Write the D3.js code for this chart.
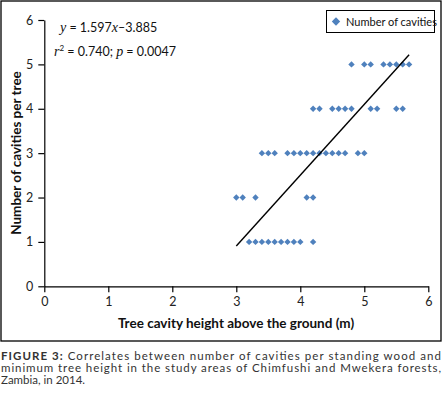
<!DOCTYPE html>
<html><head><meta charset="utf-8">
<script src="https://cdn.jsdelivr.net/npm/d3@7"></script>
<style>body{margin:0;background:#fff}svg{display:block}</style>
</head><body>
<svg id="c" width="446" height="396"></svg>
<script>
const heights = [3.2,3.3,3.4,3.5,3.6,3.7,3.8,3.9,4.0,4.2,
  3.0,3.1,3.3,4.1,4.2,
  3.4,3.5,3.6,3.8,3.9,4.0,4.1,4.2,4.3,4.4,4.5,4.6,4.7,4.9,5.0,
  4.2,4.3,4.5,4.6,4.7,4.8,5.1,5.2,5.5,5.6,
  4.8,5.0,5.1,5.3,5.4,5.5,5.6,5.7];
const cavities = [1,1,1,1,1,1,1,1,1,1,
  2,2,2,2,2,
  3,3,3,3,3,3,3,3,3,3,3,3,3,3,3,
  4,4,4,4,4,4,4,4,4,4,
  5,5,5,5,5,5,5,5];
const xTicks = [0,1,2,3,4,5,6];
const yTicks = [0,1,2,3,4,5,6];
const slope = 1.597, intercept = -3.885;
const fitRange = [3.0, 5.7];
const seriesName = "Number of cavities";
const xTitle = "Tree cavity height above the ground (m)";
const yTitle = "Number of cavities per tree";
const captionLines = [
  "Correlates between number of cavities per standing wood and",
  "minimum tree height in the study areas of Chimfushi and Mwekera forests,",
  "Zambia, in 2014."
];

const svg = d3.select("#c");
const font = "Lato, 'Open Sans', sans-serif";
const x = d3.scaleLinear().domain([0,6]).range([44.3,428.3]);
const y = d3.scaleLinear().domain([0,6]).range([286.3,20]);

// outer frame
svg.append("rect").attr("x",1).attr("y",1).attr("width",440).attr("height",340)
  .attr("fill","none").attr("stroke","#000").attr("stroke-width",1.3);

const xa = svg.append("g").attr("transform",`translate(0,${y(0)})`)
  .call(d3.axisBottom(x).tickValues(xTicks).tickFormat(d3.format("d")).tickSize(6).tickSizeOuter(0).tickPadding(5));
const ya = svg.append("g").attr("transform",`translate(${x(0)},0)`)
  .call(d3.axisLeft(y).tickValues(yTicks).tickFormat(d3.format("d")).tickSize(6).tickSizeOuter(0).tickPadding(5));
[xa,ya].forEach(a=>{
  a.selectAll("path,line").attr("stroke","#000").attr("stroke-width",1.2);
  a.selectAll("text").attr("font-family",font).attr("font-size",12.5).attr("fill","#222");
});

// axis titles
svg.append("text").attr("x",236).attr("y",328).attr("text-anchor","middle")
  .attr("font-family",font).attr("font-weight","bold").attr("font-size",13.5).attr("fill","#111").text(xTitle);
svg.append("text").attr("transform","translate(21,153) rotate(-90)").attr("text-anchor","middle")
  .attr("font-family",font).attr("font-weight","bold").attr("font-size",13.5).attr("fill","#111").text(yTitle);

// points
const dpath = r => `M0,${-r}L${r},0L0,${r}L${-r},0Z`;
svg.append("g").selectAll("path").data(heights).join("path")
  .attr("d",dpath(3.2))
  .attr("transform",(d,i)=>`translate(${x(d)},${y(cavities[i])})`)
  .attr("fill","#4F81BD");

// trend line
svg.append("line")
  .attr("x1",x(fitRange[0])).attr("y1",y(slope*fitRange[0]+intercept))
  .attr("x2",x(fitRange[1])).attr("y2",y(slope*fitRange[1]+intercept))
  .attr("stroke","#000").attr("stroke-width",1.4);

// equation
const serif = "'Liberation Serif', 'DejaVu Serif', serif";
const eq1 = svg.append("text").attr("x",60).attr("y",32).attr("font-family",font).attr("font-size",12.5).attr("fill","#111");
eq1.append("tspan").attr("font-family",serif).attr("font-style","italic").attr("font-size",14).text("y");
eq1.append("tspan").text(" = 1.597");
eq1.append("tspan").attr("font-family",serif).attr("font-style","italic").attr("font-size",14).text("x");
eq1.append("tspan").text("–3.885");
const eq2 = svg.append("text").attr("x",54).attr("y",56).attr("font-family",font).attr("font-size",12.5).attr("fill","#111");
eq2.append("tspan").attr("font-family",serif).attr("font-style","italic").attr("font-size",14).text("r");
eq2.append("tspan").attr("font-size",8).attr("dy",-5).text("2");
eq2.append("tspan").attr("dy",5).text(" = 0.740; ");
eq2.append("tspan").attr("font-family",serif).attr("font-style","italic").attr("font-size",14).text("p");
eq2.append("tspan").text(" = 0.0047");

// legend
const lg = svg.append("g");
lg.append("rect").attr("x",326.5).attr("y",10.5).attr("width",108).attr("height",22)
  .attr("fill","#fff").attr("stroke","#000").attr("stroke-width",1);
lg.append("path").attr("d",dpath(4.2)).attr("transform","translate(336,21.5)").attr("fill","#4F81BD");
lg.append("text").attr("x",346).attr("y",25.5).attr("font-family",font).attr("font-size",11).attr("fill","#111").text(seriesName);

// caption
const cap = svg.append("g").attr("font-family",font).attr("font-size",11.5).attr("fill","#333");
const l0 = cap.append("text").attr("x",1).attr("y",360).attr("textLength",440).attr("lengthAdjust","spacing");
l0.append("tspan").attr("font-weight","bold").text("FIGURE 3: ");
l0.append("tspan").text(captionLines[0]);
cap.append("text").attr("x",1).attr("y",372).attr("textLength",440).attr("lengthAdjust","spacing").text(captionLines[1]);
cap.append("text").attr("x",1).attr("y",384).text(captionLines[2]);
</script>
</body></html>
